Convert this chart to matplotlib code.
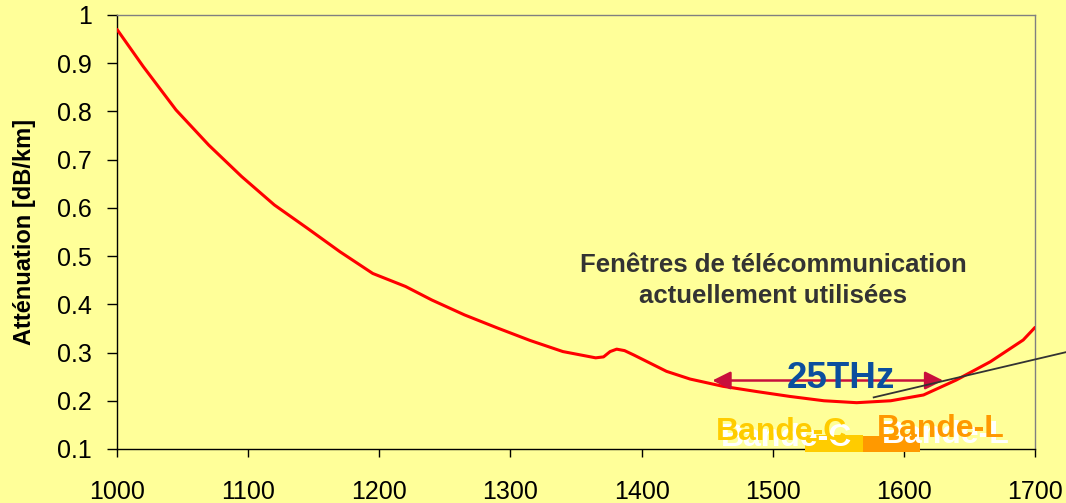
import matplotlib
matplotlib.use("Agg")
import matplotlib.pyplot as plt
from matplotlib.patches import Rectangle
from matplotlib.transforms import offset_copy

# Attenuation spectrum of a silica fibre
wavelength = [1000, 1020, 1045, 1070, 1095, 1120, 1145, 1170, 1195, 1220,
              1240, 1265, 1290, 1315, 1340, 1365, 1371, 1376, 1381, 1387,
              1394, 1419, 1437, 1462, 1488, 1513, 1539, 1564, 1590, 1615,
              1640, 1666, 1691, 1700]
attenuation = [0.970, 0.893, 0.803, 0.730, 0.665, 0.606, 0.558, 0.509, 0.464, 0.437,
               0.409, 0.378, 0.351, 0.325, 0.302, 0.289, 0.291, 0.302, 0.307, 0.304,
               0.295, 0.261, 0.245, 0.230, 0.219, 0.209, 0.200, 0.196, 0.200, 0.212,
               0.243, 0.281, 0.326, 0.352]

x_ticks = [1000, 1100, 1200, 1300, 1400, 1500, 1600, 1700]
y_ticks = [0.1, 0.2, 0.3, 0.4, 0.5, 0.6, 0.7, 0.8, 0.9, 1]
y_ticklabels = ["0.1", "0.2", "0.3", "0.4", "0.5", "0.6", "0.7", "0.8", "0.9", "1"]

# bands (nm)
band_c = (1525, 1569)
band_l = (1569, 1612)
span_25thz = (1454, 1630)

bg = "#FFFF99"
plt.rcParams["font.family"] = ["Liberation Sans", "DejaVu Sans"]

fig = plt.figure(figsize=(10.66, 5.03), dpi=100, facecolor=bg)
ax = fig.add_axes([0.1098, 0.1074, 0.8611, 0.8628], facecolor=bg)

ax.plot(wavelength, attenuation, color="#FF0000", lw=2.2, zorder=4, solid_capstyle="round")

ax.set_xlim(1000, 1700)
ax.set_ylim(0.1, 1.0)
ax.set_xticks(x_ticks)
ax.set_yticks(y_ticks)
ax.set_yticklabels(y_ticklabels)
ax.tick_params(axis="both", direction="out", width=1, labelsize=18, colors="black")
ax.tick_params(axis="y", length=7, pad=11)
ax.tick_params(axis="x", length=5.5, pad=17)
ax.set_ylabel("Atténuation [dB/km]", fontsize=17, fontweight="bold", labelpad=15)

for side in ["top", "right"]:
    ax.spines[side].set_color("#808080")
    ax.spines[side].set_linewidth(1)
for side in ["left", "bottom"]:
    ax.spines[side].set_color("black")
    ax.spines[side].set_linewidth(1)

# annotation text
ax.text(1500.4, 0.4674, "Fenêtres de télécommunication", ha="center", va="baseline",
        fontsize=18.5, fontweight="bold", color="#333333")
ax.text(1500.4, 0.4032, "actuellement utilisées", ha="center", va="baseline",
        fontsize=18.5, fontweight="bold", color="#333333")

# 25 THz double arrow
ax.annotate("", xy=(span_25thz[0], 0.242), xytext=(span_25thz[1], 0.242),
            arrowprops=dict(arrowstyle="<|-|>,head_length=1.1,head_width=0.55",
                            color="#C8103C", lw=1.8, shrinkA=0, shrinkB=0),
            zorder=5)
ax.text(1552, 0.2264, "25THz", ha="center", va="baseline", fontsize=26.5,
        fontweight="bold", color="#0B4F9E", zorder=6)

# pointer line running out of the plot
ax.plot([1577, 1724], [0.207, 0.301], color="#333333", lw=1.3, clip_on=False, zorder=5)

# band bars sitting on the x axis
ax.add_patch(Rectangle((band_c[0], 0.0938), band_c[1] - band_c[0], 0.035,
                       facecolor="#FFCC00", edgecolor="none", clip_on=False, zorder=5))
ax.add_patch(Rectangle((band_l[0], 0.0938), band_l[1] - band_l[0], 0.033,
                       facecolor="#FF9900", edgecolor="none", clip_on=False, zorder=5))

# band labels with white shadow
shadow = offset_copy(ax.transData, fig=fig, x=3.5, y=-4, units="points")
for label, xc, yb, col in [("Bande-C", 1507, 0.1187, "#FFCC00"),
                           ("Bande-L", 1628, 0.1249, "#FF9900")]:
    ax.text(xc, yb, label, transform=shadow, ha="center", va="baseline", fontsize=23,
            fontweight="bold", color="white", zorder=6, clip_on=False)
    ax.text(xc, yb, label, ha="center", va="baseline", fontsize=23,
            fontweight="bold", color=col, zorder=7, clip_on=False)

fig.savefig("out.png", dpi=100, facecolor=bg)
